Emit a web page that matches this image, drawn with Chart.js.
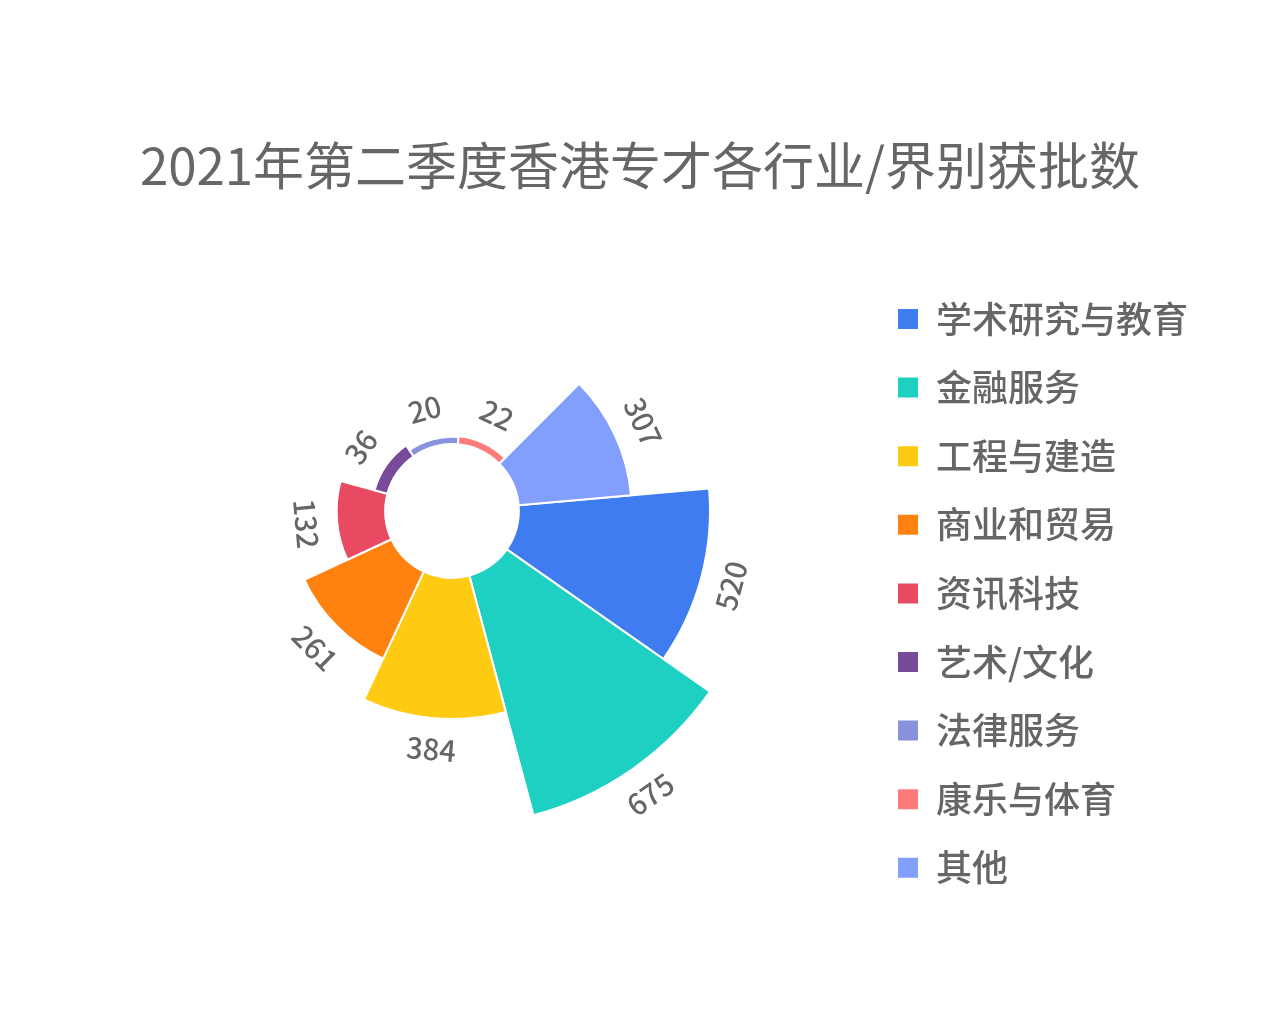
<!DOCTYPE html>
<html lang="zh">
<head>
  <meta charset="UTF-8" />
  <title>2021年第二季度香港专才各行业/界别获批数</title>
  <script src="https://cdn.jsdelivr.net/npm/chart.js"></script>
  <style>
    body { margin: 0; background: #ffffff; }
    .wrap { position: relative; width: 1280px; height: 1024px; }
    .chart-title {
      position: absolute;
      top: 133px;
      left: 0;
      width: 1280px;
      text-align: center;
      font-family: "Noto Sans CJK SC", sans-serif;
      font-size: 51px;
      line-height: 60px;
      color: #666666;
      z-index: 2;
    }
  </style>
</head>
<body>

<div class="wrap">
  <div class="chart-title">2021年第二季度香港专才各行业/界别获批数</div>
  <canvas id="roseChart"></canvas>
</div>

<script>
  // data
  const categories = ['学术研究与教育', '金融服务', '工程与建造', '商业和贸易', '资讯科技', '艺术/文化', '法律服务', '康乐与体育', '其他'];
  const approvals = [520, 675, 384, 261, 132, 36, 20, 22, 307];
  const sliceColors = ['#3e7cf0', '#1dd0c1', '#ffca12', '#ff8210', '#e84a61', '#784a9a', '#8893dc', '#ff7b7b', '#839ffd'];

  const cjkFont = '"Noto Sans CJK SC", sans-serif';

  // value 0 sits on the inner hole edge
  const holePlugin = {
    id: 'hole',
    afterDatasetsUpdate(chart) {
      const scale = chart.scales.r;
      const inner = scale.getDistanceFromCenterForValue(0);
      chart.getDatasetMeta(0).data.forEach(arc => { arc.innerRadius = inner; });
    }
  };

  // tangential value labels outside each slice
  const valueLabels = {
    id: 'valueLabels',
    afterDatasetsDraw(chart) {
      const ctx = chart.ctx;
      const arcs = chart.getDatasetMeta(0).data;
      ctx.save();
      ctx.font = '500 29px ' + cjkFont;
      ctx.fillStyle = '#666666';
      ctx.textAlign = 'center';
      ctx.textBaseline = 'middle';
      arcs.forEach((arc, i) => {
        const mid = (arc.startAngle + arc.endAngle) / 2;
        const r = arc.outerRadius + 31;
        let rot = mid - Math.PI / 2;
        while (rot > Math.PI / 2) rot -= Math.PI;
        while (rot <= -Math.PI / 2) rot += Math.PI;
        ctx.save();
        ctx.translate(arc.x + Math.cos(mid) * r, arc.y + Math.sin(mid) * r);
        ctx.rotate(rot);
        ctx.fillText(String(approvals[i]), 0, 0);
        ctx.restore();
      });
      ctx.restore();
    }
  };

  const ctx = document.getElementById('roseChart').getContext('2d');

  new Chart(ctx, {
    type: 'polarArea',
    data: {
      labels: categories,
      datasets: [{
        data: approvals,
        backgroundColor: sliceColors,
        borderColor: '#ffffff',
        borderWidth: 2
      }]
    },
    options: {
      responsive: true,
      maintainAspectRatio: false,
      animation: false,
      events: [],
      layout: { padding: { left: 40.6, right: 82, top: 0, bottom: 2 } },
      scales: {
        r: {
          display: false,
          startAngle: 85,
          min: -182,
          max: 939
        }
      },
      plugins: {
        tooltip: { enabled: false },
        legend: {
          position: 'right',
          align: 'start',
          fullSize: false,
          title: {
            display: true,
            text: ' ',
            font: { size: 12 },
            padding: { top: 254, bottom: 0 }
          },
          labels: {
            boxWidth: 20,
            boxHeight: 20,
            padding: 32.6,
            color: '#666666',
            font: { family: cjkFont, size: 36, weight: 500 },
            generateLabels(chart) {
              return categories.map((name, i) => ({
                text: name,
                fillStyle: sliceColors[i],
                strokeStyle: sliceColors[i],
                lineWidth: 0,
                fontColor: '#666666',
                hidden: false,
                index: i
              }));
            }
          }
        }
      }
    },
    plugins: [holePlugin, valueLabels]
  });
</script>

</body>
</html>
